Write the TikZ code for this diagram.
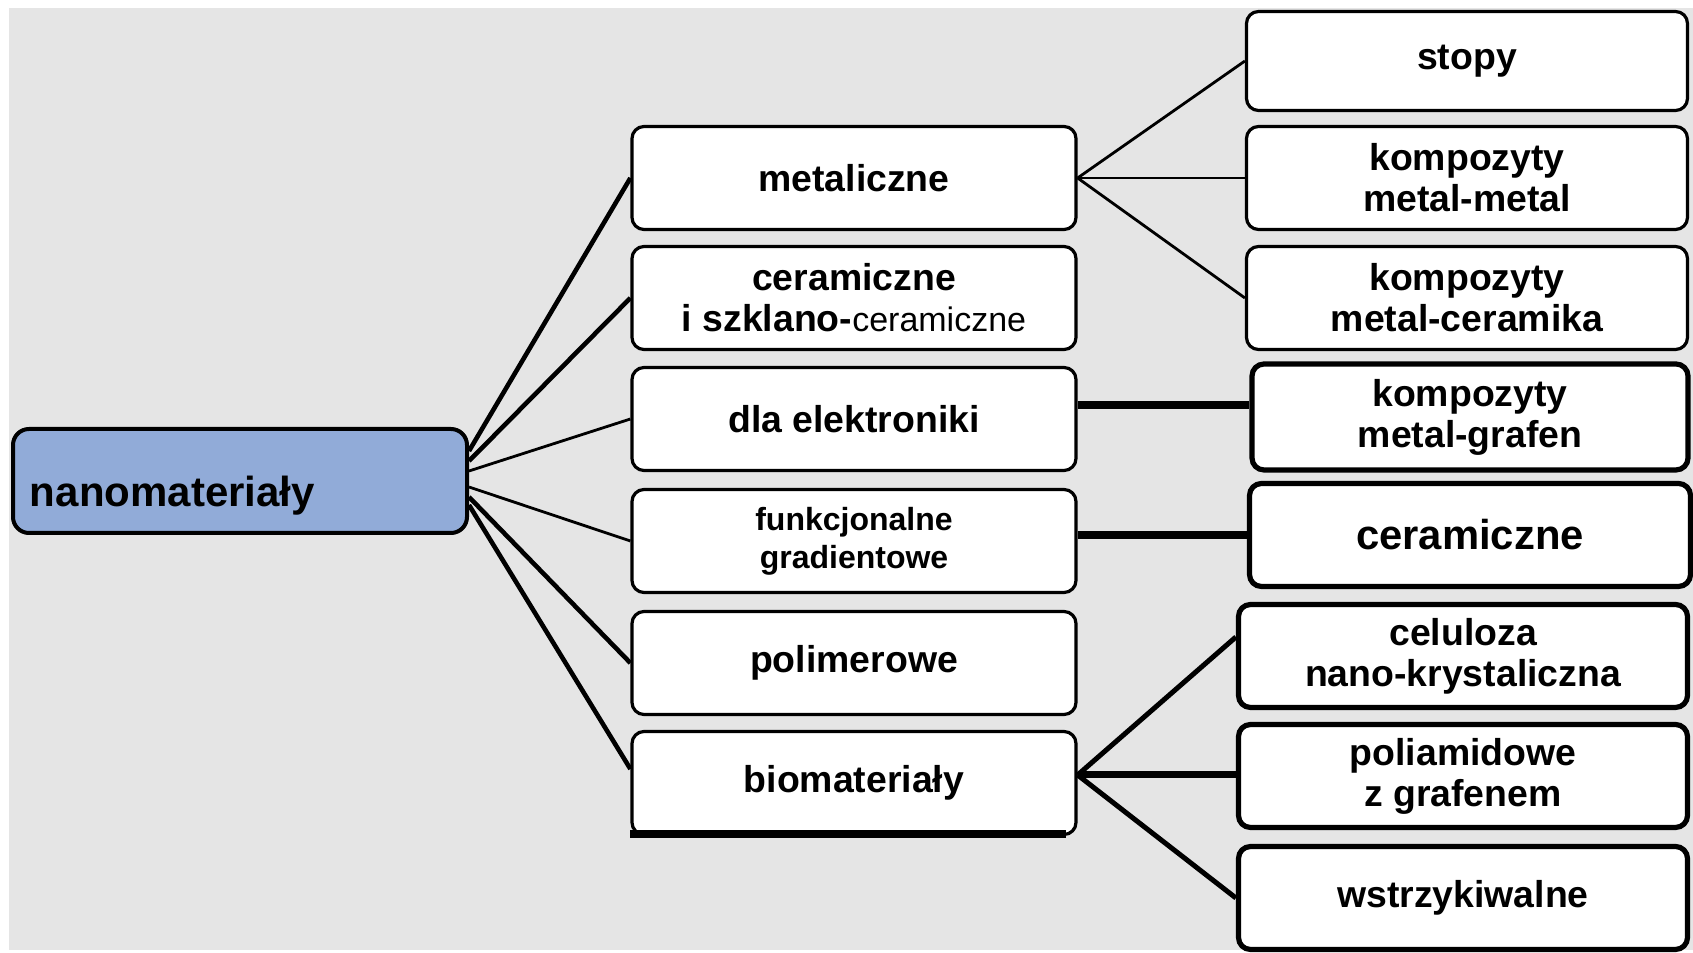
\documentclass[tikz,border=0pt]{standalone}
\usepackage{fontspec}
\setmainfont{Liberation Sans}
\usepackage{tikz}
\definecolor{rootblue}{RGB}{145,171,216}
\definecolor{bggray}{RGB}{229,229,229}

\begin{document}
\begin{tikzpicture}[x=0.5pt, y=0.5pt,
  box/.style={draw, line width=1.6pt, rounded corners=6pt, fill=white, align=center,
    minimum width=222pt, minimum height=51.5pt, inner sep=2pt,
    font=\fontsize{18.7}{20.5}\selectfont\bfseries},
  subbox/.style={box, minimum width=220.5pt},
  heavybox/.style={subbox, line width=2.6pt}]
  \useasboundingbox (0,0) rectangle (1693,953);
  \fill[bggray] (9,3) rectangle (1693,945);

  % root
  \node[draw, line width=2pt, rounded corners=8pt, fill=rootblue, minimum height=52pt,
    text width=210pt, inner xsep=8.5pt, align=left, text height=26pt, text depth=0pt,
    font=\fontsize{21}{24}\selectfont\bfseries] (root) at (240,472) {nanomateriały};

  % middle column
  \node[box] (met) at (854,775) {metaliczne};
  \node[box] (cer) at (854,655) {ceramiczne\\ i szklano-{\mdseries\fontsize{17}{20.5}\selectfont ceramiczne}};
  \node[box] (ele) at (854,534) {dla elektroniki};
  \node[box, font=\fontsize{16}{19}\selectfont\bfseries] (fun) at (854,412) {funkcjonalne\\ gradientowe};
  \node[box] (pol) at (854,290) {polimerowe};
  \node[box] (bio) at (854,170) {biomateriały};
  \draw[line width=4pt] ([yshift=1pt]bio.south west) -- ([xshift=-6pt, yshift=1pt]bio.south east);

  % right column
  \node[subbox, minimum height=49.5pt] (sto) at (1467,892) {stopy};
  \node[subbox] (kmm) at (1467,775) {kompozyty\\ metal-metal};
  \node[subbox] (kmc) at (1467,655) {kompozyty\\ metal-ceramika};
  \node[heavybox, minimum width=218pt, minimum height=53pt] (kmg) at (1470,536) {kompozyty\\ metal-grafen};
  \node[heavybox, font=\fontsize{20.9}{24}\selectfont\bfseries] (rce) at (1470,418) {ceramiczne};
  \node[heavybox, minimum width=224.5pt] (cel) at (1463,297) {celuloza\\ nano-krystaliczna};
  \node[heavybox, minimum width=224.5pt] (pam) at (1463,177) {poliamidowe\\ z grafenem};
  \node[heavybox, minimum width=224.5pt] (wst) at (1463,55) {wstrzykiwalne};

  % connectors
  \foreach \m/\s/\e/\w in {met/15pt/0pt/2.3pt, cer/10pt/0pt/2.3pt, ele/5pt/0pt/1.4pt,
      fun/-3pt/0pt/1.4pt, pol/-8pt/0pt/2.3pt, bio/-12pt/7pt/2.3pt}
    \draw[line width=\w] ([yshift=\s]root.east) -- ([yshift=\e]\m.west);
  \foreach \r in {sto, kmm, kmc}
    \draw[line width=1.4pt] (met.east) -- (\r.west);
  \draw[line width=4pt] ([yshift=7pt]ele.east) -- ([yshift=6pt]kmg.west);
  \draw[line width=4pt] (fun.east |- rce.west) -- (rce.west);
  \draw[line width=2.5pt] ([yshift=4pt]bio.east) -- ([yshift=9.5pt]cel.west);
  \draw[line width=3.5pt] ([yshift=4pt]bio.east) -- ([yshift=0.5pt]pam.west);
  \draw[line width=2.5pt] ([yshift=4pt]bio.east) -- (wst.west);
\end{tikzpicture}
\end{document}
